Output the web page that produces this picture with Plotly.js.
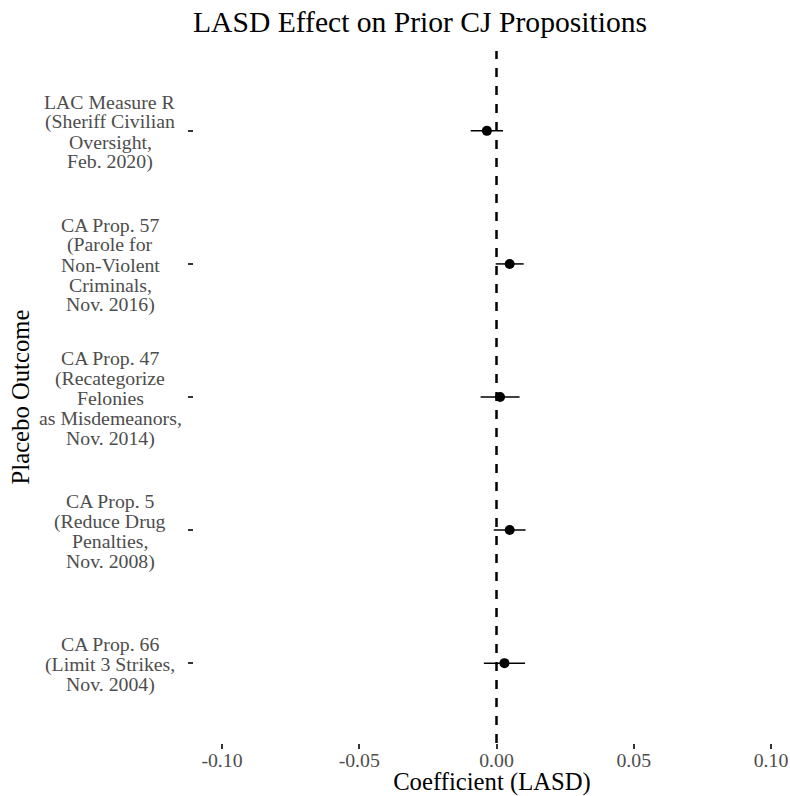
<!DOCTYPE html>
<html>
<head>
<meta charset="utf-8">
<script src="https://cdn.plot.ly/plotly-3.0.1.min.js"></script>
<style>html,body{margin:0;padding:0;background:#fff;}#chart{width:790px;height:796px;}</style>
</head>
<body>
<div id="chart"></div>
<script>
// ---- data ----
const categories = ["LAC Measure R", "CA Prop. 57", "CA Prop. 47", "CA Prop. 5", "CA Prop. 66"];
const labelLines = [
  ["LAC Measure R", "(Sheriff Civilian", "Oversight,", "Feb. 2020)"],
  ["CA Prop. 57", "(Parole for", "Non-Violent", "Criminals,", "Nov. 2016)"],
  ["CA Prop. 47", "(Recategorize", "Felonies", "as Misdemeanors,", "Nov. 2014)"],
  ["CA Prop. 5", "(Reduce Drug", "Penalties,", "Nov. 2008)"],
  ["CA Prop. 66", "(Limit 3 Strikes,", "Nov. 2004)"]
];
const estimates = [-0.0035, 0.0048, 0.0013, 0.0048, 0.0029];
const lower = [-0.0094, -0.0003, -0.0058, -0.0010, -0.0046];
const upper = [0.0024, 0.0099, 0.0084, 0.0106, 0.0104];
const xTickVals = [-0.10, -0.05, 0.00, 0.05, 0.10];
const xTickText = ["-0.10", "-0.05", "0.00", "0.05", "0.10"];
const refValue = 0;

// ---- layout constants ----
const FONT = "Liberation Serif, Times New Roman, serif";
const W = 790, H = 796;
const M = {l: 194, r: 0, t: 51, b: 53};
const plotW = W - M.l - M.r;
const labelCenterPx = 110;
const lineSpacing = 20;

const trace = {
  type: "scatter",
  mode: "markers",
  x: estimates,
  y: categories,
  marker: {color: "#000000", size: 10},
  error_x: {
    type: "data",
    symmetric: false,
    array: upper.map((u, i) => u - estimates[i]),
    arrayminus: lower.map((l, i) => estimates[i] - l),
    color: "#000000",
    thickness: 1.5,
    width: 0
  },
  hoverinfo: "x+y",
  showlegend: false
};

const annotations = [];
labelLines.forEach((lines, i) => {
  const n = lines.length;
  lines.forEach((txt, j) => {
    annotations.push({
      text: txt,
      xref: "paper",
      x: (labelCenterPx - M.l) / plotW,
      xanchor: "center",
      yref: "y",
      y: categories[i],
      yanchor: "middle",
      yshift: ((n - 1) / 2 - j) * lineSpacing - 1,
      showarrow: false,
      borderpad: 0,
      font: {family: FONT, size: 19.8, color: "#4D4D4D"}
    });
  });
});

const layout = {
  width: W,
  height: H,
  margin: M,
  paper_bgcolor: "#ffffff",
  plot_bgcolor: "#ffffff",
  font: {family: FONT, color: "#000000"},
  title: {
    text: "LASD Effect on Prior CJ Propositions",
    font: {family: FONT, size: 29.6, color: "#000000"},
    xref: "container",
    x: 420 / W,
    xanchor: "center",
    yref: "container",
    y: 1 - 22 / H,
    yanchor: "middle"
  },
  xaxis: {
    range: [(M.l - 496.5) / 2745, (W - 496.5) / 2745],
    tickvals: xTickVals,
    ticktext: xTickText,
    tickfont: {family: FONT, size: 19.8, color: "#4D4D4D"},
    ticks: "outside",
    ticklen: 5,
    tickwidth: 2,
    tickcolor: "#333333",
    ticklabelstandoff: -6,
    showgrid: false,
    zeroline: false,
    showline: false,
    title: {text: "Coefficient (LASD)", font: {family: FONT, size: 24.7, color: "#000000"}, standoff: 14},
    automargin: false
  },
  yaxis: {
    type: "category",
    categoryorder: "array",
    categoryarray: categories,
    range: [4.6, -0.6],
    showticklabels: false,
    ticks: "outside",
    ticklen: 5,
    tickwidth: 2,
    tickcolor: "#333333",
    showgrid: false,
    zeroline: false,
    showline: false,
    title: {text: "Placebo Outcome", font: {family: FONT, size: 24.7, color: "#000000"}, standoff: 151},
    automargin: false
  },
  shapes: [{
    type: "line",
    xref: "x",
    x0: refValue,
    x1: refValue,
    yref: "paper",
    y0: 0,
    y1: 1,
    line: {color: "#000000", width: 2.5, dash: "9px,9px"},
    layer: "below"
  }],
  annotations: annotations
};

Plotly.newPlot("chart", [trace], layout, {displayModeBar: false});
</script>
</body>
</html>
